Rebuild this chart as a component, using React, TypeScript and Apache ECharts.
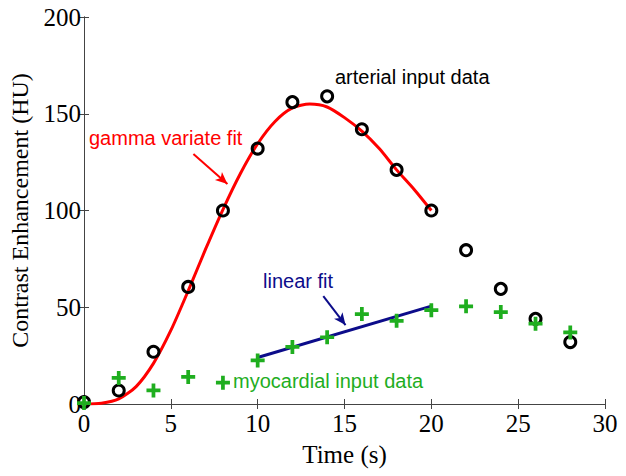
import React, { useEffect, useRef } from "react";
import * as echarts from "echarts";

const times = [0, 2, 4, 6, 8, 10, 12, 14, 16, 18, 20, 22, 24, 26, 28];
const arterial = [1, 7, 27, 60.5, 100, 132, 156, 159, 142, 121, 100, 79.5, 59.5, 44, 32];
const myocardial = [0.5, 13.5, 7, 14, 11, 22.5, 29.5, 34.5, 46.5, 43, 48.5, 50.5, 47.5, 41.5, 37];
const fitTimes = [0, 1, 2, 3, 4, 5, 6, 7, 8, 9, 10, 11, 12, 13, 14, 15, 16, 17, 18, 19, 20];
const gammaFit = [0, 0.4, 2.6, 9, 21, 38, 58.5, 80, 100.5, 119, 134.5, 146, 153, 155, 153.5, 148, 141, 132, 121, 111, 100];
const linearTimes = [10, 20];
const linearFit = [24, 50.6];
const xTicks = { min: 0, max: 30, interval: 5 };
const yTicks = { min: 0, max: 200, interval: 50 };

const GREEN = "#1fae1f";
const NAVY = "#0c0c8a";
const RED = "#ff0000";
const AXIS = "#444";
const PLUS = "path://M5.5,0H9.5V5.5H15V9.5H9.5V15H5.5V9.5H0V5.5H5.5Z";

export default function App() {
  const ref = useRef<HTMLDivElement>(null);
  useEffect(() => {
    if (!ref.current) return;
    const chart = echarts.init(ref.current, null, { renderer: "svg" });
    const serif = "'Liberation Serif', 'Times New Roman', serif";
    const sans = "'Liberation Sans', Arial, sans-serif";
    const hiddenAxis = {
      axisLine: { show: true, lineStyle: { color: AXIS, width: 1 } },
      axisTick: { show: true, inside: true, length: 5, lineStyle: { color: AXIS } },
      axisLabel: { show: false },
      splitLine: { show: false },
    };
    chart.setOption({
      animation: false,
      backgroundColor: "#fff",
      grid: { left: 83, right: 21, top: 17, bottom: 72 },
      xAxis: [
        {
          type: "value",
          ...xTicks,
          name: "Time (s)",
          nameLocation: "middle",
          nameGap: 38,
          nameTextStyle: { fontFamily: serif, fontSize: 25, color: "#000" },
          axisLine: { show: true, onZero: false, lineStyle: { color: AXIS, width: 1 } },
          axisTick: { show: true, inside: true, length: 5, lineStyle: { color: AXIS } },
          axisLabel: { fontFamily: serif, fontSize: 25, color: "#000", margin: 7 },
          splitLine: { show: false },
        },
        { type: "value", position: "top", ...xTicks, ...hiddenAxis },
      ],
      yAxis: [
        {
          type: "value",
          ...yTicks,
          name: "Contrast Enhancement (HU)",
          nameLocation: "middle",
          nameGap: 52,
          nameTextStyle: { fontFamily: serif, fontSize: 24, color: "#000" },
          axisLine: { show: true, onZero: false, lineStyle: { color: AXIS, width: 1 } },
          axisTick: { show: true, inside: true, length: 5, lineStyle: { color: AXIS } },
          axisLabel: { fontFamily: serif, fontSize: 25, color: "#000", margin: 3 },
          splitLine: { show: false },
        },
        { type: "value", position: "right", ...yTicks, ...hiddenAxis },
      ],
      series: [
        {
          type: "line",
          data: fitTimes.map((t, i) => [t, gammaFit[i]]),
          smooth: 0.25,
          showSymbol: false,
          lineStyle: { color: RED, width: 3 },
          silent: true,
          z: 2,
          markLine: {
            silent: true,
            symbol: ["none", "arrow"],
            symbolSize: [8, 12],
            label: { show: false },
            lineStyle: { color: RED, width: 2, type: "solid" },
            data: [[{ coord: [6.3, 129.2] }, { coord: [8.26, 113.7] }]],
          },
        },
        {
          type: "line",
          data: linearTimes.map((t, i) => [t, linearFit[i]]),
          showSymbol: false,
          lineStyle: { color: NAVY, width: 3 },
          silent: true,
          z: 3,
          markLine: {
            silent: true,
            symbol: ["none", "arrow"],
            symbolSize: [8, 12],
            label: { show: false },
            lineStyle: { color: NAVY, width: 2, type: "solid" },
            data: [[{ coord: [13.78, 55.8] }, { coord: [15.06, 40.8] }]],
          },
        },
        {
          type: "scatter",
          data: times.map((t, i) => [t, arterial[i]]),
          symbol: "circle",
          symbolSize: 11,
          itemStyle: { color: "rgba(0,0,0,0)", borderColor: "#000", borderWidth: 3, opacity: 1 },
          silent: true,
          z: 4,
        },
        {
          type: "scatter",
          data: times.map((t, i) => [t, myocardial[i]]),
          symbol: PLUS,
          symbolSize: 14,
          itemStyle: { color: GREEN, opacity: 1 },
          silent: true,
          z: 5,
        },
      ],
      graphic: [
        { type: "text", left: 89, top: 128, style: { text: "gamma variate fit", fill: RED, font: `20px ${sans}` } },
        { type: "text", left: 335, top: 67, style: { text: "arterial input data", fill: "#000", font: `20px ${sans}` } },
        { type: "text", left: 263, top: 271, style: { text: "linear fit", fill: NAVY, font: `20px ${sans}` } },
        { type: "text", left: 233, top: 371, style: { text: "myocardial input data", fill: GREEN, font: `20px ${sans}` } },
      ],
    });
    return () => chart.dispose();
  }, []);
  return <div ref={ref} style={{ position: "fixed", left: 0, top: 0, width: 626, height: 476 }} />;
}
